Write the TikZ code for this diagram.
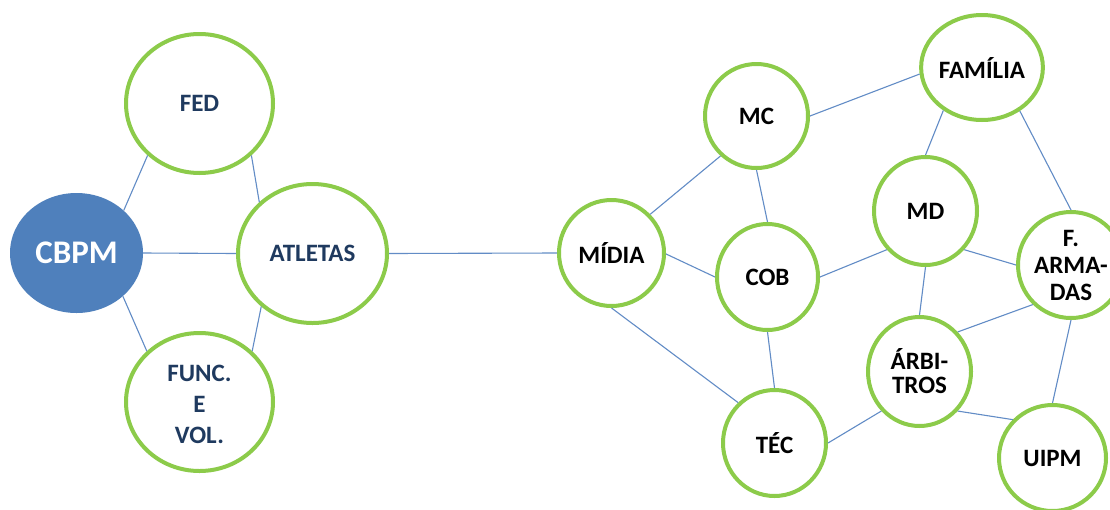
\documentclass[tikz,border=0pt]{standalone}
\usepackage{fontspec}
\setmainfont{Carlito}
\usetikzlibrary{shapes.geometric}
\definecolor{ringgreen}{HTML}{8CCB4A}
\definecolor{edgeblue}{HTML}{628CC6}
\definecolor{hubblue}{HTML}{4F80BC}
\definecolor{navytext}{HTML}{1F3A5F}
\tikzset{
  ring/.style={ellipse, draw=ringgreen, line width=4pt, fill=white, inner sep=0pt, align=center, font=\bfseries\fontsize{25}{28}\selectfont, text=black},
  leftring/.style={ring, text=navytext, font=\bfseries\fontsize{25}{31}\selectfont},
  hub/.style={ellipse, fill=hubblue, draw=none, inner sep=0pt, text=white, font=\bfseries\fontsize{33}{36}\selectfont},
  link/.style={draw=edgeblue, line width=1.1pt}
}
\begin{document}
\begin{tikzpicture}[x=1pt,y=-1pt]
\useasboundingbox (0,0) rectangle (1110,509);
\clip (0,0) rectangle (1110,509);
\fill[white] (0,0) rectangle (1110,509);
% left cluster
\node[hub, minimum width=133pt, minimum height=120pt] (cbpm) at (76.5,253) {CBPM};
\node[leftring, minimum width=147pt, minimum height=139pt] (fed) at (199.5,103.5) {FED};
\node[leftring, minimum width=149pt, minimum height=139pt] (atl) at (312.5,253.5) {ATLETAS};
\node[leftring, minimum width=147pt, minimum height=138pt] (func) at (199.5,402) {\rule{0pt}{22pt}FUNC.\\E\\VOL.};
% right cluster
\node[ring, minimum width=105pt, minimum height=106pt] (midia) at (611.5,253) {MÍDIA};
\node[ring, minimum width=103pt, minimum height=104pt] (mc) at (756.5,116) {MC};
\node[ring, minimum width=101pt, minimum height=106pt] (cob) at (767.5,277) {COB};
\node[ring, minimum width=103pt, minimum height=106pt] (tec) at (774.5,443) {TÉC};
\node[ring, minimum width=106pt, minimum height=105pt] (fam) at (982,67.5) {FAMÍLIA};
\node[ring, minimum width=103pt, minimum height=108pt] (md) at (925.5,211) {MD};
\node[ring, minimum width=106pt, minimum height=106pt, font=\bfseries\fontsize{25}{27}\selectfont] (farm) at (1071,265) {F.\\ARMA-\\DAS};
\node[ring, minimum width=103pt, minimum height=109pt, font=\bfseries\fontsize{25}{24}\selectfont] (arb) at (919.5,371.5) {ÁRBI-\\TROS};
\node[ring, minimum width=107pt, minimum height=106pt] (uipm) at (1052.5,458) {UIPM};
% connectors
\draw[link] (cbpm.42) -- (fed.225);
\draw[link] (cbpm.east) -- (atl.west);
\draw[link] (cbpm.317) -- (func.136);
\draw[link] (fed.315) -- (atl.136);
\draw[link] (atl.226) -- (func.44);
\draw[link] (atl.east) -- (midia.west);
\draw[link] (midia.45) -- (mc.228);
\draw[link] (midia.359) -- (cob.180);
\draw[link] (midia.270) -- (tec.132);
\draw[link] (mc.270) -- (cob.90);
\draw[link] (cob.270) -- (tec.90);
\draw[link] (mc.0) -- (fam.186);
\draw[link] (cob.0) -- (md.225);
\draw[link] (tec.0) -- (arb.226);
\draw[link] (fam.228) -- (md.90);
\draw[link] (fam.311) -- (farm.90);
\draw[link] (md.315) -- (farm.180);
\draw[link] (md.270) -- (arb.90);
\draw[link] (farm.226) -- (arb.46);
\draw[link] (farm.270) -- (uipm.90);
\draw[link] (arb.314) -- (uipm.136);
\end{tikzpicture}
\end{document}
